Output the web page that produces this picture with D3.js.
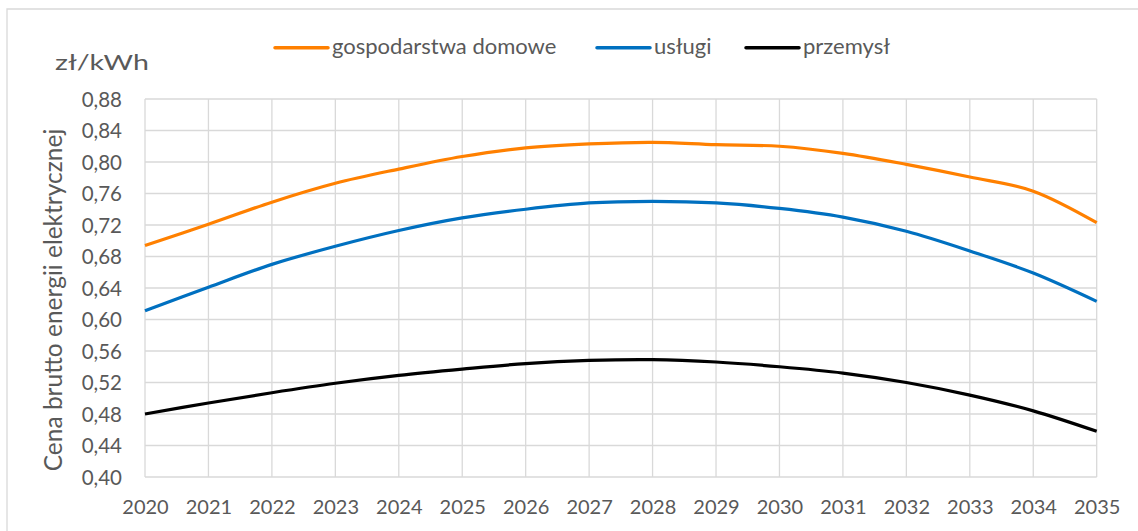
<!DOCTYPE html>
<html>
<head>
<meta charset="utf-8">
<script src="https://cdn.jsdelivr.net/npm/d3@7"></script>
<style>
  html, body { margin: 0; padding: 0; background: #fff; }
  svg { display: block; }
  text { font-family: Lato, "Open Sans", sans-serif; fill: #595959; }
</style>
</head>
<body>
<svg id="chart" width="1138" height="531"></svg>
<script>
// Gross electricity price by customer group, zł/kWh
const years = [2020, 2021, 2022, 2023, 2024, 2025, 2026, 2027, 2028, 2029, 2030, 2031, 2032, 2033, 2034, 2035];
const households = [0.694, 0.721, 0.749, 0.773, 0.791, 0.807, 0.818, 0.823, 0.825, 0.822, 0.820, 0.811, 0.797, 0.781, 0.763, 0.723];
const services   = [0.611, 0.641, 0.670, 0.693, 0.713, 0.729, 0.740, 0.748, 0.750, 0.748, 0.741, 0.730, 0.712, 0.687, 0.659, 0.623];
const industry   = [0.480, 0.494, 0.507, 0.519, 0.529, 0.537, 0.544, 0.548, 0.549, 0.546, 0.540, 0.532, 0.520, 0.504, 0.484, 0.458];
const yTicks = [0.40, 0.44, 0.48, 0.52, 0.56, 0.60, 0.64, 0.68, 0.72, 0.76, 0.80, 0.84, 0.88];
const seriesNames = ["gospodarstwa domowe", "usługi", "przemysł"];
const seriesColors = ["#ff8000", "#0070c0", "#000000"];

const series = [households, services, industry].map((vals, i) => ({
  name: seriesNames[i],
  color: seriesColors[i],
  values: vals.map((v, j) => ({ year: years[j], value: v }))
}));

const svg = d3.select("#chart");
const margin = { left: 145, right: 1096.7, top: 99, bottom: 477 };

const x = d3.scaleLinear().domain([2020, 2035]).range([margin.left, margin.right]);
const y = d3.scaleLinear().domain([0.40, 0.88]).range([margin.bottom, margin.top]);

// outer frame
svg.append("path")
  .attr("d", "M7,531 L7,9 L1138,9")
  .attr("fill", "none")
  .attr("stroke", "#d9d9d9")
  .attr("stroke-width", 1.3);

// gridlines
const grid = svg.append("g").attr("stroke", "#d9d9d9").attr("stroke-width", 1.3);
grid.selectAll("line.h").data(yTicks).join("line")
  .attr("class", "h")
  .attr("x1", margin.left).attr("x2", margin.right)
  .attr("y1", d => y(d)).attr("y2", d => y(d));
grid.selectAll("line.v").data(years).join("line")
  .attr("class", "v")
  .attr("y1", margin.top).attr("y2", margin.bottom)
  .attr("x1", d => x(d)).attr("x2", d => x(d));

// y axis labels
const fmt = d => d.toFixed(2).replace(".", ",");
const yAxis = d3.axisLeft(y).tickValues(yTicks).tickFormat(fmt).tickSize(0).tickPadding(23);
const gy = svg.append("g").attr("transform", `translate(${margin.left},0)`).call(yAxis);
gy.select(".domain").remove();
gy.selectAll("text").style("font-family", "Lato").style("font-size", "20.5px").attr("fill", "#595959").attr("dy", "0.36em");

// x axis labels
const xAxis = d3.axisBottom(x).tickValues(years).tickFormat(d3.format("d")).tickSize(0).tickPadding(23);
const gx = svg.append("g").attr("transform", `translate(0,${margin.bottom})`).call(xAxis);
gx.select(".domain").remove();
gx.selectAll("text").style("font-family", "Lato").style("font-size", "20px").attr("fill", "#595959");

// lines
const line = d3.line()
  .x(d => x(d.year))
  .y(d => y(d.value))
  .curve(d3.curveCatmullRom.alpha(0));

svg.append("g").selectAll("path").data(series).join("path")
  .attr("fill", "none")
  .attr("stroke", d => d.color)
  .attr("stroke-width", 3.2)
  .attr("stroke-linejoin", "round")
  .attr("d", d => line(d.values));

// unit label (drawn horizontally widened)
svg.append("text")
  .attr("transform", "translate(55,70) scale(1.36,1)")
  .style("font-size", "21px")
  .text("zł/kWh");

// y axis title
svg.append("text")
  .attr("transform", "translate(62,300) rotate(-90)")
  .attr("text-anchor", "middle")
  .style("font-size", "24.5px")
  .text("Cena brutto energii elektrycznej");

// legend
const legendX = [275, 597, 746];
const legend = svg.append("g");
series.forEach((s, i) => {
  legend.append("line")
    .attr("x1", legendX[i]).attr("x2", legendX[i] + 53)
    .attr("y1", 47.7).attr("y2", 47.7)
    .attr("stroke", s.color)
    .attr("stroke-width", 3.5)
    .attr("stroke-linecap", "round");
  legend.append("text")
    .attr("x", legendX[i] + 57).attr("y", 54)
    .style("font-size", "22px")
    .text(s.name);
});
</script>
</body>
</html>
